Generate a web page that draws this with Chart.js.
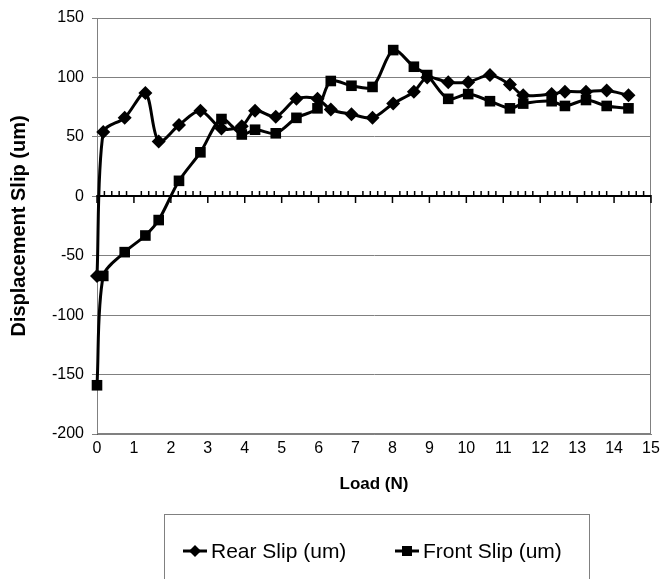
<!DOCTYPE html>
<html>
<head>
<meta charset="utf-8">
<script src="https://cdn.jsdelivr.net/npm/chart.js@4.4.1/dist/chart.umd.min.js"></script>
<style>
  body { margin: 0; background: #fff; }
  #wrap { position: relative; width: 669px; height: 579px; overflow: hidden; }
  #legend {
    position: absolute; left: 164px; top: 514px; width: 424px; height: 90px;
    border: 1px solid #808080; font-family: "Liberation Sans", Arial, sans-serif; font-size: 21px;
  }
  .item { position: absolute; top: 24px; display: flex; align-items: center; }
  .item svg { margin-right: 4px; }
</style>
</head>
<body>
<div id="wrap">
  <canvas id="chart" width="669" height="579"></canvas>
  <div id="legend">
    <div class="item" style="left:18px">
      <svg width="24" height="14"><line x1="0" y1="7" x2="24" y2="7" stroke="#000" stroke-width="3"/><polygon points="12,1 18,7 12,13 6,7" fill="#000"/></svg>Rear Slip (um)
    </div>
    <div class="item" style="left:230px">
      <svg width="24" height="14"><line x1="0" y1="7" x2="24" y2="7" stroke="#000" stroke-width="3"/><rect x="7" y="2" width="10" height="10" fill="#000"/></svg>Front Slip (um)
    </div>
  </div>
</div>
<script>
// values
var loads = [0, 0.17, 0.75, 1.31, 1.67, 2.22, 2.8, 3.37, 3.92, 4.28, 4.84, 5.4, 5.97, 6.33, 6.89, 7.46, 8.02, 8.58, 8.94, 9.51, 10.05, 10.64, 11.18, 11.54, 12.31, 12.67, 13.24, 13.8, 14.39];
var rearSlip = [-67, 54, 66, 87, 46, 60, 72, 57, 59, 72, 67, 82, 82, 73, 69, 66, 78, 88, 100, 96, 96, 102, 94, 85, 86, 88, 88, 89, 85];
var frontSlip = [-159, -67, -47, -33, -20, 13, 37, 65, 52, 56, 53, 66, 74, 97, 93, 92, 123, 109, 102, 82, 86, 80, 74, 78, 80, 76, 81, 76, 74];
var yTicks = [150, 100, 50, 0, -50, -100, -150, -200];
var xTicks = [0, 1, 2, 3, 4, 5, 6, 7, 8, 9, 10, 11, 12, 13, 14, 15];

function toPoints(ys) {
  return loads.map(function (x, i) { return { x: x, y: ys[i] }; });
}

// black x axis through zero with excel style tick marks, plus grey frame
const zeroAxis = {
  id: "zeroAxis",
  beforeDatasetsDraw: function (chart) {
    var ctx = chart.ctx, area = chart.chartArea;
    var xs = chart.scales.x, ys = chart.scales.y;
    var y0 = Math.round(ys.getPixelForValue(0));
    ctx.save();
    ctx.strokeStyle = "#808080";
    ctx.lineWidth = 1;
    ctx.strokeRect(area.left + 0.5, area.top + 0.5, area.width - 1, area.height - 1);
    ctx.strokeStyle = "#000";
    ctx.lineWidth = 2;
    ctx.beginPath();
    ctx.moveTo(area.left, y0);
    ctx.lineTo(area.right, y0);
    ctx.stroke();
    ctx.lineWidth = 1.5;
    for (var i = 0; i <= 75; i++) {
      var px = xs.getPixelForValue(i * 0.2);
      ctx.beginPath();
      if (i % 5 === 0) {
        ctx.moveTo(px, y0 - 1);
        ctx.lineTo(px, y0 + 7);
      } else {
        ctx.moveTo(px, y0 - 5);
        ctx.lineTo(px, y0);
      }
      ctx.stroke();
    }
    ctx.restore();
  }
};

var font = { family: "'Liberation Sans', Arial, sans-serif", size: 16 };

new Chart(document.getElementById("chart"), {
  type: "scatter",
  data: {
    datasets: [
      {
        label: "Rear Slip (um)",
        data: toPoints(rearSlip),
        showLine: true,
        borderColor: "#000",
        backgroundColor: "#000",
        borderWidth: 3,
        pointStyle: "rectRot",
        pointRadius: 7,
        pointBorderWidth: 0,
        tension: 0.3,
        clip: false
      },
      {
        label: "Front Slip (um)",
        data: toPoints(frontSlip),
        showLine: true,
        borderColor: "#000",
        backgroundColor: "#000",
        borderWidth: 3,
        pointStyle: "rect",
        pointRadius: 7.5,
        pointBorderWidth: 0,
        tension: 0.3,
        clip: false
      }
    ]
  },
  options: {
    responsive: false,
    animation: false,
    layout: { padding: { left: 0, right: 18, top: 18, bottom: 80 } },
    plugins: { legend: { display: false }, tooltip: { enabled: false } },
    scales: {
      x: {
        type: "linear",
        min: 0,
        max: 15,
        afterBuildTicks: function (scale) {
          scale.ticks = xTicks.map(function (v) { return { value: v }; });
        },
        afterFit: function (scale) { scale.height = 65; },
        grid: { drawOnChartArea: false, drawTicks: false },
        border: { color: "#808080", width: 1 },
        ticks: { color: "#000", font: font, padding: 5, maxRotation: 0 },
        title: {
          display: true,
          text: "Load (N)",
          color: "#000",
          font: { family: font.family, size: 17, weight: "bold" },
          padding: { top: 0, bottom: 4 }
        }
      },
      y: {
        min: -200,
        max: 150,
        afterBuildTicks: function (scale) {
          scale.ticks = yTicks.map(function (v) { return { value: v }; });
        },
        afterFit: function (scale) { scale.width = 97; },
        grid: { color: "#808080", lineWidth: 1, tickLength: 5, tickColor: "#808080" },
        border: { color: "#555", width: 1 },
        ticks: { color: "#000", font: font, padding: 8 },
        title: {
          display: true,
          text: "Displacement Slip (um)",
          color: "#000",
          font: { family: font.family, size: 20, weight: "bold" },
          padding: { top: 7, bottom: 0 }
        }
      }
    }
  },
  plugins: [zeroAxis]
});
</script>
</body>
</html>
